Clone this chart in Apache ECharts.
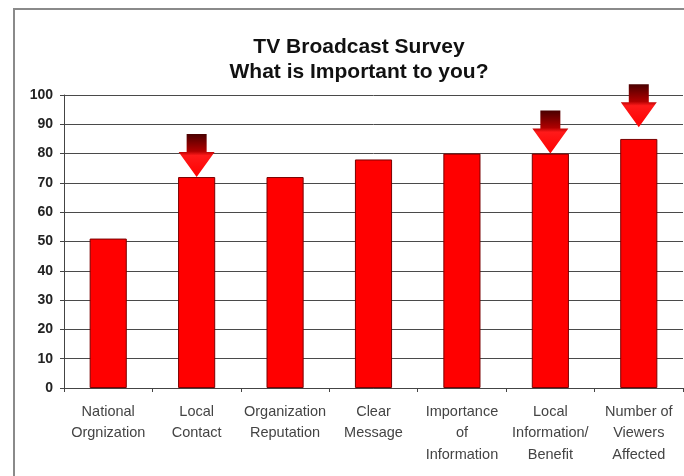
<!DOCTYPE html>
<html>
<head>
<meta charset="utf-8">
<script src="https://cdn.jsdelivr.net/npm/echarts@6/dist/echarts.min.js"></script>
<style>html,body{margin:0;padding:0;background:#fff;}#c{width:684px;height:476px;}</style>
</head>
<body>
<div id="c"></div>
<script>
var categories = ["National\nOrgnization", "Local\nContact", "Organization\nReputation", "Clear\nMessage", "Importance\nof\nInformation", "Local\nInformation/\nBenefit", "Number of\nViewers\nAffected"];
var values = [51, 72, 72, 78, 80, 80, 85];
var arrowCategories = ["Local\nContact", "Local\nInformation/\nBenefit", "Number of\nViewers\nAffected"];
var arrowTips = [72, 80, 89];
var yTicks = [0, 10, 20, 30, 40, 50, 60, 70, 80, 90, 100];

var chart = echarts.init(document.getElementById('c'), null, {renderer: 'canvas'});
var arrowPath = 'path://M8,0 L28,0 L28,18 L36,18 L18,43 L0,18 L8,18 Z';
var arrowColor = new echarts.graphic.LinearGradient(0, 0, 0, 1, [
  {offset: 0, color: '#4a0000'},
  {offset: 0.4, color: '#b00000'},
  {offset: 0.5, color: '#ff1a1a'},
  {offset: 1, color: '#ff0000'}
]);
chart.setOption({
  backgroundColor: '#ffffff',
  animation: false,
  title: {
    text: 'TV Broadcast Survey\nWhat is Important to you?',
    left: 354, top: 30, textAlign: 'center',
    textStyle: {fontFamily: 'Liberation Sans, Arial, sans-serif', fontSize: 21, fontWeight: 'bold', color: '#111', lineHeight: 25}
  },
  graphic: [{
    type: 'rect', shape: {x: 14, y: 9, width: 700, height: 500},
    style: {fill: 'none', stroke: '#8a8a8a', lineWidth: 2}, silent: true
  }],
  grid: {left: 64, right: 1, top: 95, bottom: 88},
  xAxis: {
    type: 'category', data: categories,
    axisLine: {lineStyle: {color: '#444', width: 1}},
    axisTick: {show: true, length: 4, lineStyle: {color: '#444'}},
    axisLabel: {interval: 0, margin: 13, color: '#444', fontFamily: 'Liberation Sans Narrow, Arial Narrow, Liberation Sans, sans-serif', fontSize: 14.5, lineHeight: 21.5}
  },
  yAxis: {
    type: 'value', min: 0, max: 100, interval: 10,
    axisLine: {show: true, lineStyle: {color: '#444'}},
    axisTick: {show: true, length: 4, lineStyle: {color: '#444'}},
    splitLine: {lineStyle: {color: '#4a4a4a', width: 1}},
    axisLabel: {margin: 11, color: '#222', fontFamily: 'Liberation Sans, Arial, sans-serif', fontSize: 14, fontWeight: 'bold',
      formatter: function (v) { return yTicks.indexOf(v) >= 0 ? String(v) : ''; }}
  },
  series: [{
    type: 'bar', data: values, barCategoryGap: '58%',
    itemStyle: {color: '#ff0000', borderColor: '#7a0000', borderWidth: 1},
    markPoint: {
      symbol: arrowPath, symbolSize: [36, 43], symbolOffset: [0, '-50%'],
      label: {show: false},
      itemStyle: {color: arrowColor},
      data: arrowCategories.map(function (c, i) { return {coord: [c, arrowTips[i]]}; })
    }
  }]
});
</script>
</body>
</html>
